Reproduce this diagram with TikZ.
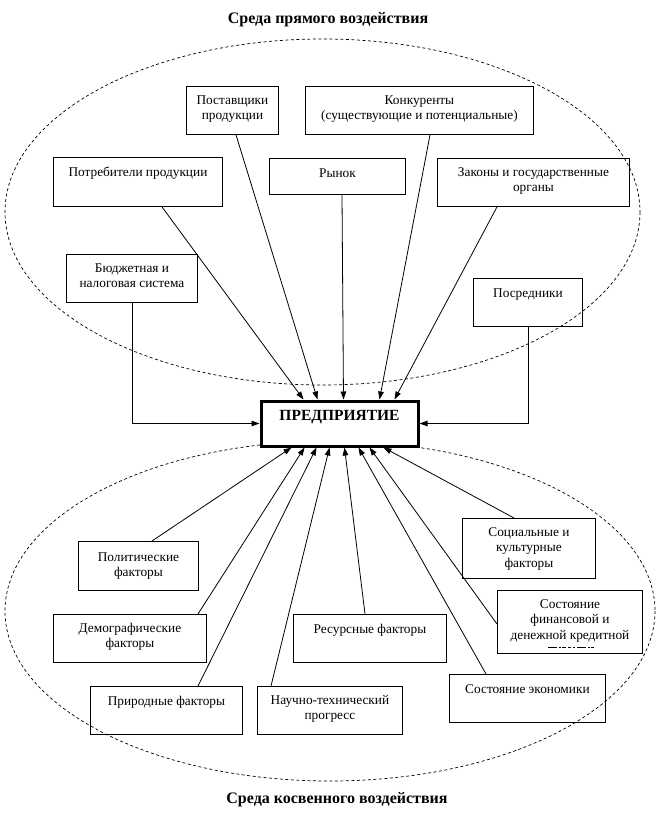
\documentclass[tikz,border=0pt]{standalone}
\usepackage{fontspec}
\setmainfont{Liberation Serif}
\usetikzlibrary{arrows.meta}
\newcommand\mkbox[7]{%
  \node[bx, anchor=north west] (#1) at (#2,#3)
    {\parbox[t][\dimexpr #5pt-#3pt\relax][t]{\dimexpr #4pt-#2pt\relax}{\centering\rule{0pt}{#6pt}#7}};}
\begin{document}
\begin{tikzpicture}[x=1pt,y=-1pt,
  font=\fontsize{13.33}{15.3}\selectfont,
  bx/.style={draw, line width=0.9pt, inner sep=0pt},
  conn/.style={line width=0.8pt},
  arr/.style={conn, -{Triangle[length=8pt,width=5.5pt]}},
  ell/.style={line width=0.7pt, dash pattern=on 3pt off 2.5pt},
  ttl/.style={font=\bfseries\fontsize{16}{18}\selectfont, anchor=base, inner sep=0pt}]
\useasboundingbox (0,0) rectangle (666,830);
% environments
\draw[ell] (322.5,212) ellipse [x radius=317.5, y radius=173];
\draw[ell] (330,611) ellipse [x radius=325, y radius=170];
% titles
\node[ttl] (t1) at (328,23) {Среда прямого воздействия};
\node[ttl] (t2) at (337,803) {Среда косвенного воздействия};
% direct environment
\mkbox{post}{186}{86}{278}{134}{18}{Поставщики\\продукции}
\mkbox{konk}{305}{86}{533}{134}{18}{Конкуренты\\(существующие и потенциальные)}
\mkbox{potr}{53}{157}{222}{206}{19}{Потребители продукции}
\mkbox{ryn}{269}{158}{405}{194}{19}{Рынок}
\mkbox{zak}{437}{158}{629}{206}{18}{Законы и государственные\\органы}
\mkbox{byud}{66}{254}{197}{302}{18}{Бюджетная и\\налоговая система}
\mkbox{posr}{473}{278}{582}{326}{19}{Посредники}
% indirect environment
\mkbox{polit}{78}{541}{198}{590}{20}{Политические\\факторы}
\mkbox{demo}{53}{614}{206}{662}{18}{Демографические\\факторы}
\mkbox{prir}{90}{686}{242}{734}{19}{Природные факторы}
\mkbox{nauch}{257}{686}{402}{734}{18}{Научно-технический\\прогресс}
\mkbox{res}{293}{614}{446}{662}{19}{Ресурсные факторы}
\mkbox{soc}{462}{518}{595}{578}{18}{Социальные и\\культурные\\факторы}
\mkbox{fin}{497}{590}{642}{653}{18}{Состояние\\финансовой и\\денежной кредитной}
\mkbox{econ}{449}{674}{605}{722}{19}{Состояние экономики}
\draw[line width=0.8pt, dash pattern=on 9pt off 1.5pt on 2pt off 1.5pt on 4pt off 2pt on 3pt off 2pt on 2pt off 2pt]
  ([xshift=51pt,yshift=-57pt]fin.north west) -- ([xshift=97pt,yshift=-57pt]fin.north west);
% enterprise
\node[draw, line width=3pt, fill=white, inner sep=0pt, anchor=north west,
      font=\bfseries\fontsize{15.5}{17}\selectfont] (pred) at (259.5,399.5)
  {\parbox[t][45pt][t]{157pt}{\centering\rule{0pt}{19pt}ПРЕДПРИЯТИЕ}};
% connectors from direct environment
\draw[arr] ([xshift=109pt]potr.south west) -- ([xshift=44pt]pred.north west);
\draw[arr] ([xshift=50pt]post.south west) -- ([xshift=58pt]pred.north west);
\draw[arr] ([xshift=73pt]ryn.south west) -- ([xshift=84pt]pred.north west);
\draw[arr] ([xshift=125pt]konk.south west) -- ([xshift=120pt]pred.north west);
\draw[arr] ([xshift=60pt]zak.south west) -- ([xshift=135pt]pred.north west);
\draw[arr] (byud.south) |- (pred.west);
\draw[arr] (posr.south) |- (pred.east);
% connectors from indirect environment
\draw[arr] ([xshift=74pt]polit.north west) -- ([xshift=32pt]pred.south west);
\draw[arr] ([xshift=145pt]demo.north west) -- ([xshift=45pt]pred.south west);
\draw[arr] ([xshift=108pt]prir.north west) -- ([xshift=57pt]pred.south west);
\draw[arr] ([xshift=14pt]nauch.north west) -- ([xshift=70pt]pred.south west);
\draw[arr] ([xshift=72pt]res.north west) -- ([xshift=85pt]pred.south west);
\draw[arr] ([xshift=37pt]econ.north west) -- ([xshift=99pt]pred.south west);
\draw[arr] ([yshift=-34pt]fin.north west) -- ([xshift=110pt]pred.south west);
\draw[arr] ([xshift=52pt]soc.north west) -- ([xshift=124pt]pred.south west);
\end{tikzpicture}
\end{document}
